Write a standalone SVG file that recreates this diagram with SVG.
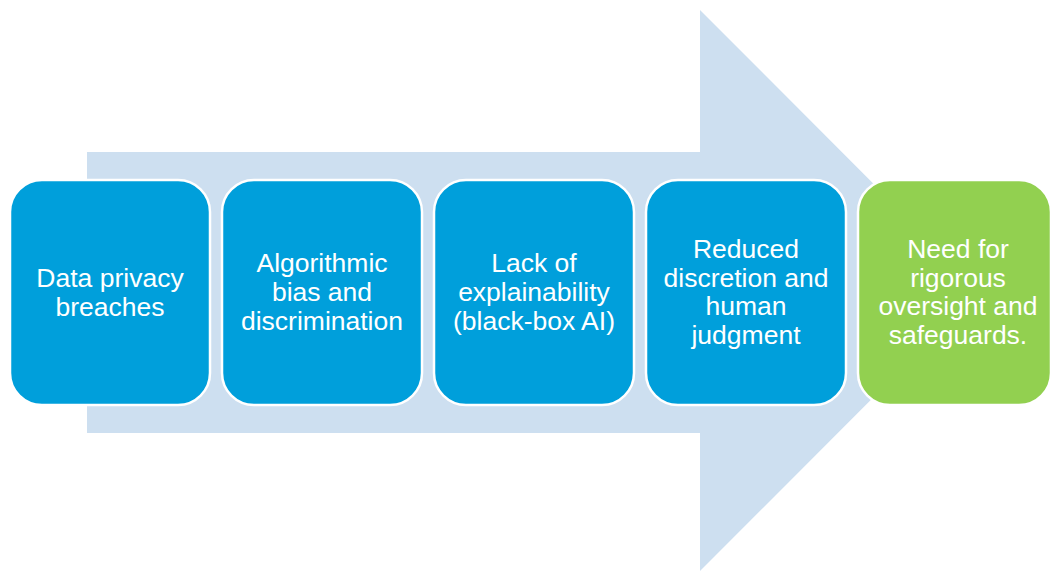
<svg xmlns="http://www.w3.org/2000/svg" width="1051" height="571" viewBox="0 0 1051 571">
<style>
.box{stroke:#FFFFFF;stroke-width:2.5}
.blue{fill:#009FDB}
.green{fill:#92D050}
.lbl{font-family:"Liberation Sans",Arial,sans-serif;font-size:26.5px;fill:#FFFFFF;text-anchor:middle}
</style>
<rect width="1051" height="571" fill="#FFFFFF"/>
<g id="arrow">
<polygon points="87,152 700,152 700,10 980,290.5 700,571 700,433 87,433" fill="#CDDFF0"/>
</g>
<g id="connectors"></g>
<g id="n1">
<rect class="box blue" x="10" y="180" width="200" height="225" rx="32"/>
<text class="lbl" x="110" y="287">Data privacy</text>
<text class="lbl" x="110" y="315.5">breaches</text>
</g>
<g id="n2">
<rect class="box blue" x="222" y="180" width="200" height="225" rx="32"/>
<text class="lbl" x="322" y="272">Algorithmic</text>
<text class="lbl" x="322" y="301">bias and</text>
<text class="lbl" x="322" y="330">discrimination</text>
</g>
<g id="n3">
<rect class="box blue" x="434" y="180" width="200" height="225" rx="32"/>
<text class="lbl" x="534" y="272">Lack of</text>
<text class="lbl" x="534" y="301">explainability</text>
<text class="lbl" x="534" y="330">(black-box AI)</text>
</g>
<g id="n4">
<rect class="box blue" x="646" y="180" width="200" height="225" rx="32"/>
<text class="lbl" x="746" y="257.5">Reduced</text>
<text class="lbl" x="746" y="286.5">discretion and</text>
<text class="lbl" x="746" y="315">human</text>
<text class="lbl" x="746" y="344">judgment</text>
</g>
<g id="n5">
<rect class="box green" x="858" y="180" width="193" height="225" rx="32"/>
<text class="lbl" x="958" y="257.5">Need for</text>
<text class="lbl" x="958" y="286.5">rigorous</text>
<text class="lbl" x="958" y="315">oversight and</text>
<text class="lbl" x="958" y="344">safeguards.</text>
</g>
</svg>
